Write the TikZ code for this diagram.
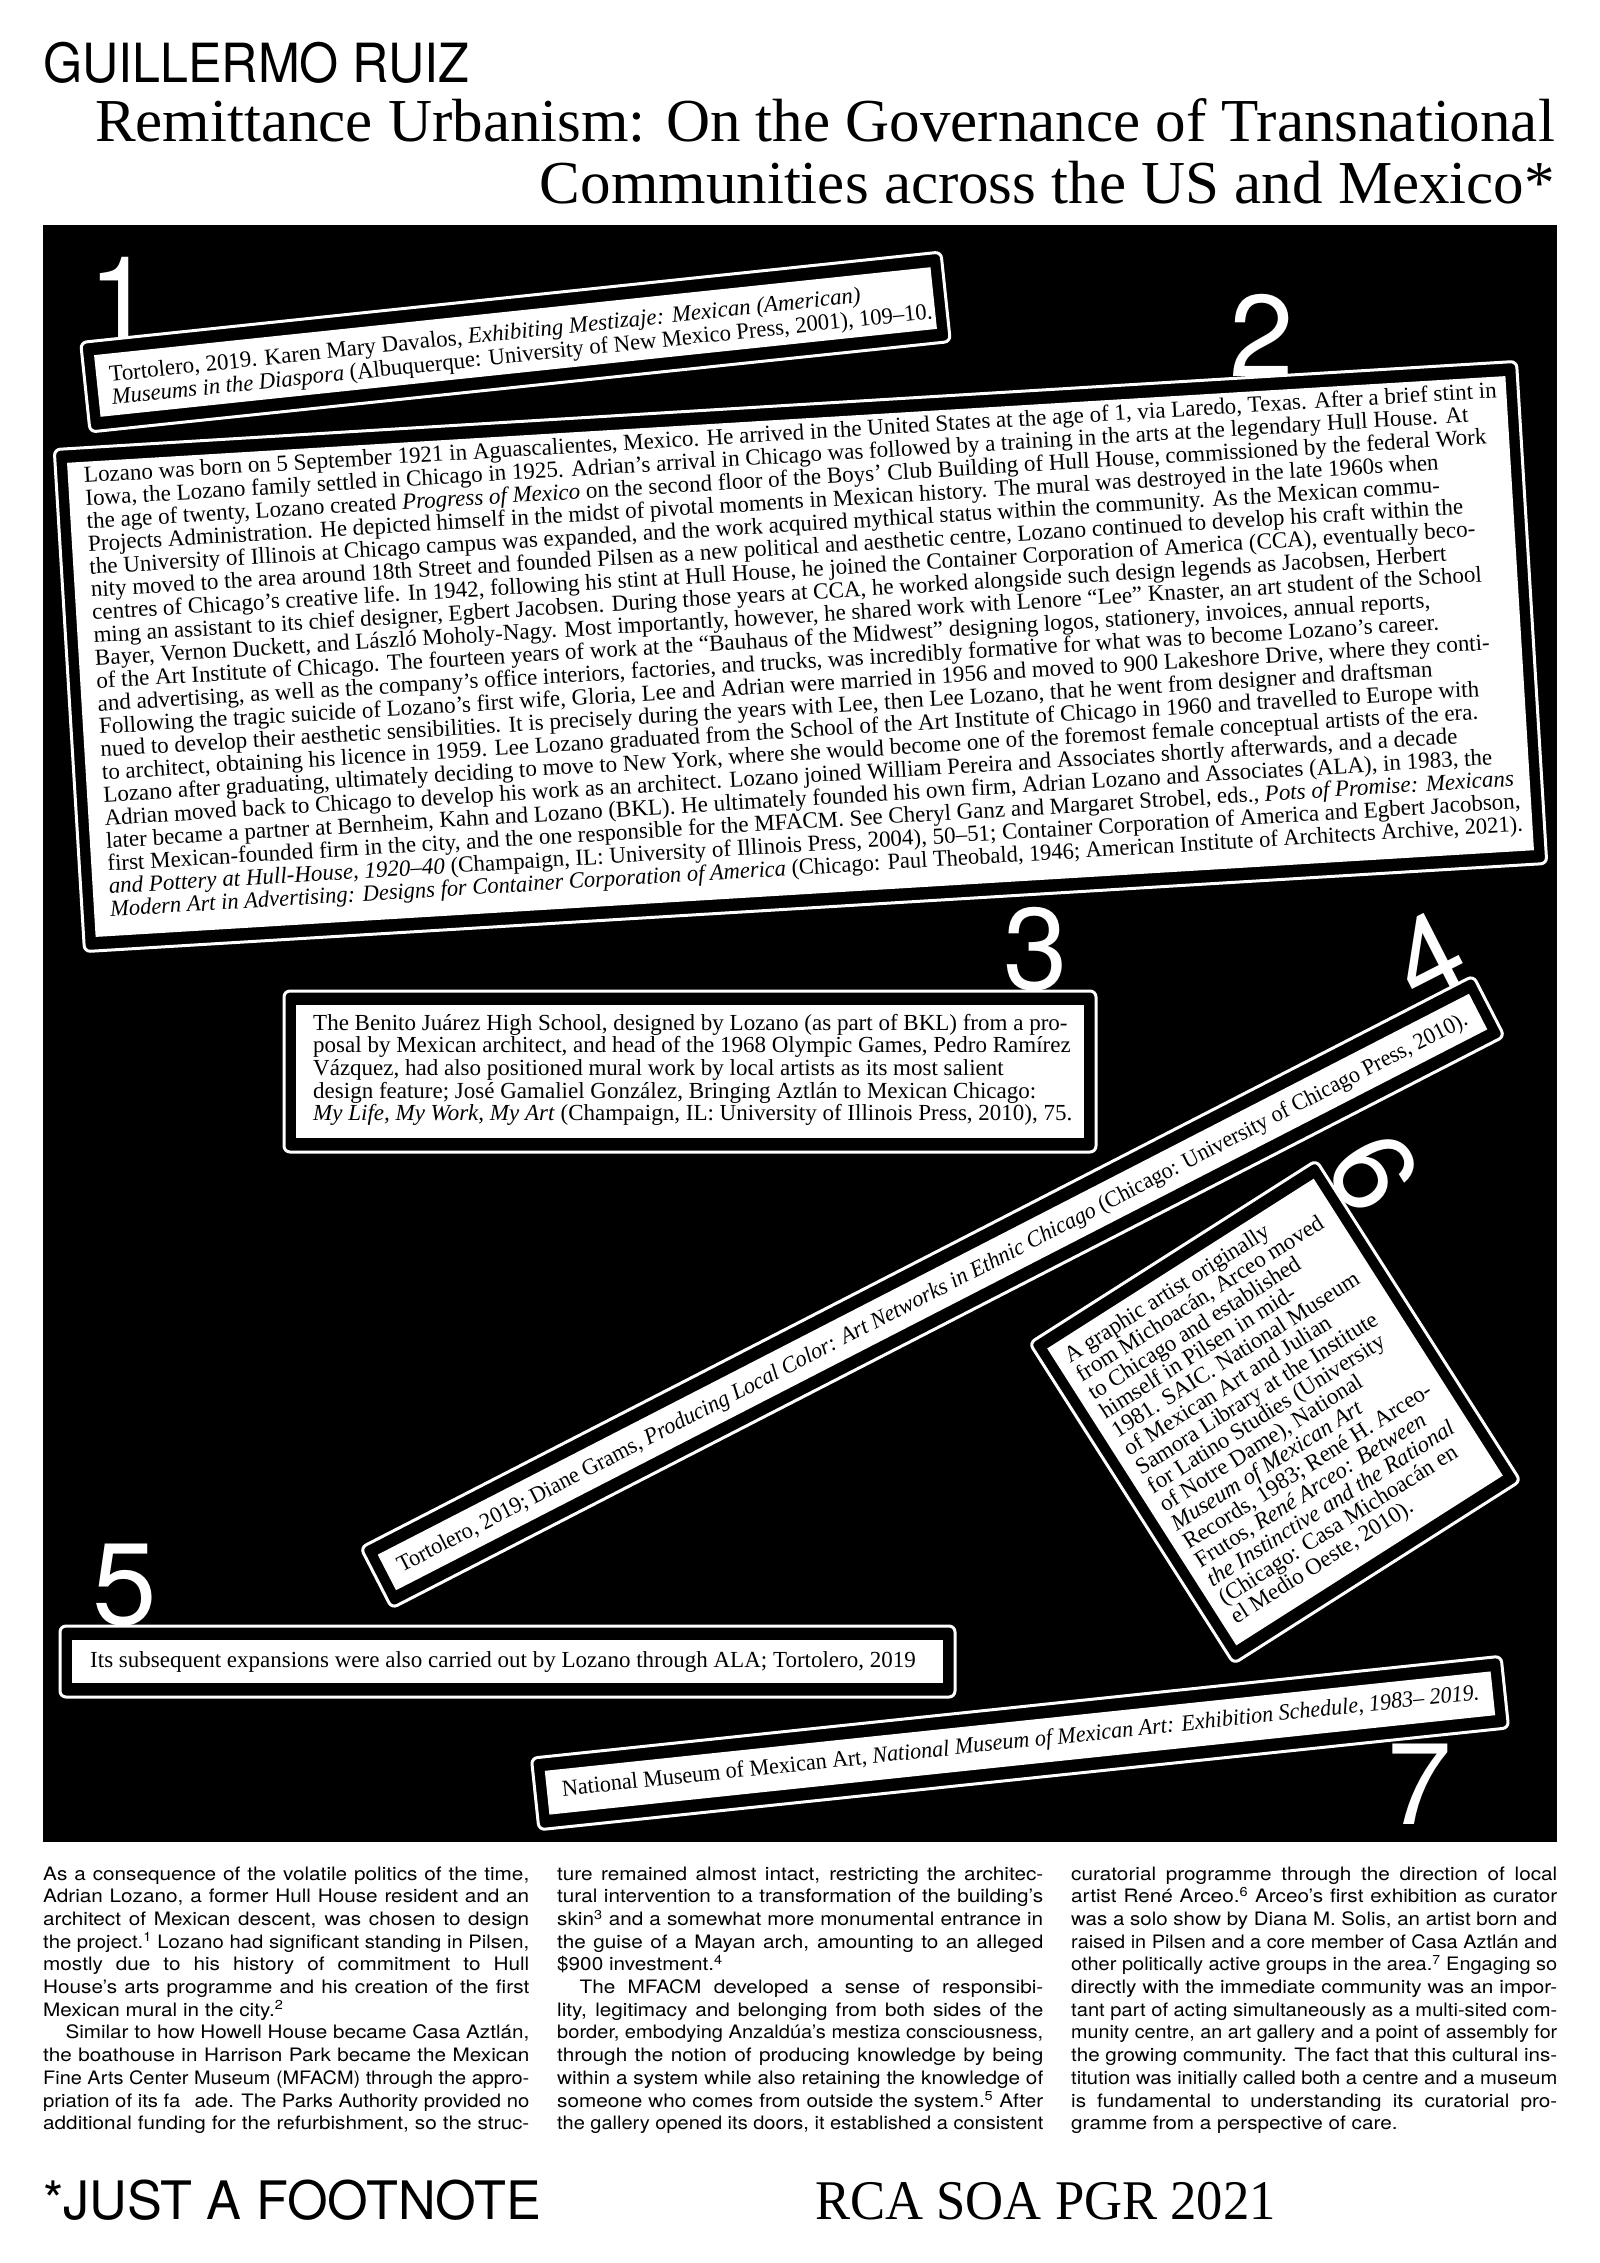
\documentclass[tikz,border=0pt]{standalone}
\usepackage{graphicx}
\usepackage{fontspec}
\setmainfont{Liberation Serif}
\newfontfamily\herosfont{TeX Gyre Heros}
\newcommand\lineL[1]{\setbox0=\hbox{#1}\ifdim\wd0>\hsize\hbox to\hsize{\resizebox{\hsize}{\height}{\box0}}\else\hbox to\hsize{\box0\hfil}\fi}
\newcommand\lineJ[1]{\setbox0=\hbox{#1}\ifdim\wd0>\hsize\hbox to\hsize{\resizebox{\hsize}{\height}{\box0}}\else\hbox to\hsize{#1}\fi}
\newcommand\lineI[1]{\lineJ{\hskip20pt #1}}
\newcommand\ptxtblock[3]{\vtop{\hsize=#1\baselineskip=#2\lineskiplimit=-100pt\lineskip=0pt\relax #3}}
\tikzset{
 outerbox/.style={draw=white, line width=3pt, fill=black, rounded corners=6pt, inner sep=0pt, outer sep=0pt},
 innerbox/.style={fill=white, draw=none, inner sep=0pt, outer sep=0pt},
 boxtext/.style={inner sep=0pt, anchor=base west, text=black, font=\fontsize{23}{22.9}\selectfont},
 bignum/.style={inner sep=0pt, anchor=south, text=white, font=\herosfont\fontsize{116}{116}\selectfont},
 bodytext/.style={inner sep=0pt, anchor=base west, text=black, font=\herosfont\fontsize{18.5}{22.7}\selectfont},
}
\begin{document}
\begin{tikzpicture}[x=1pt,y=-1pt]
\useasboundingbox (0,0) rectangle (1600,2263);
\fill[white] (0,0) rectangle (1600,2263);
% header
\node[inner sep=0pt, anchor=base west, font=\herosfont\fontsize{54}{54}\selectfont] (author) at (43,82) {\scalebox{0.93}[1]{GUILLERMO RUIZ}};
\node[inner sep=0pt, anchor=base east, font=\fontsize{61}{61}\selectfont] (title1) at (1555,141) {Remittance Urbanism: On the Governance of Transnational};
\node[inner sep=0pt, anchor=base east, font=\fontsize{61}{61}\selectfont] (title2) at (1555,203) {Communities across the US and Mexico*};
% panel
\fill[black] (43,225) rectangle (1557,1842);
% numbers
\node[bignum] (n1) at (121,340) {1};
\node[bignum] (n2) at (1262,377) {2};
\node[bignum] (n3) at (1036,991) {3};
\node[bignum, rotate=27] (n4) at (1447,994) {4};
\node[bignum] (n5) at (125,1626) {5};
\node[bignum, rotate=-58] (n6) at (1338,1195) {6};
\node[bignum] (n7) at (1420,1825) {7};
% box 1
\begin{scope}[shift={(515.5,342)}, rotate=6, transform shape]
 \node[outerbox, minimum width=865pt, minimum height=90pt] (box1) at (0,0) {};
 \node[innerbox, minimum width=841pt, minimum height=62pt] (box1in) at (0,0) {};
 \node[boxtext] (text1) at (-407.5,-3) {\ptxtblock{825pt}{23.5pt}{%
\lineL{Tortolero, 2019. Karen Mary Davalos, \textit{Exhibiting Mestizaje: Mexican (American)}}%
\lineL{\textit{Museums in the Diaspora} (Albuquerque: University of New Mexico Press, 2001), 109–10.}}};
\end{scope}
% box 2
\begin{scope}[shift={(800.5,656.5)}, rotate=3.45, transform shape]
 \node[outerbox, minimum width=1465pt, minimum height=503pt] (box2) at (0,0) {};
 \node[innerbox, minimum width=1441pt, minimum height=475pt] (box2in) at (0,0) {};
 \node[boxtext] (text2) at (-704.5,-216.5) {\ptxtblock{1415pt}{22.87pt}{%
\lineL{Lozano was born on 5 September 1921 in Aguascalientes, Mexico. He arrived in the United States at the age of 1, via Laredo, Texas. After a brief stint in}%
\lineL{Iowa, the Lozano family settled in Chicago in 1925. Adrian’s arrival in Chicago was followed by a training in the arts at the legendary Hull House. At}%
\lineL{the age of twenty, Lozano created \textit{Progress of Mexico} on the second floor of the Boys’ Club Building of Hull House, commissioned by the federal Work}%
\lineL{Projects Administration. He depicted himself in the midst of pivotal moments in Mexican history. The mural was destroyed in the late 1960s when}%
\lineL{the University of Illinois at Chicago campus was expanded, and the work acquired mythical status within the community. As the Mexican commu-}%
\lineL{nity moved to the area around 18th Street and founded Pilsen as a new political and aesthetic centre, Lozano continued to develop his craft within the}%
\lineL{centres of Chicago’s creative life. In 1942, following his stint at Hull House, he joined the Container Corporation of America (CCA), eventually beco-}%
\lineL{ming an assistant to its chief designer, Egbert Jacobsen. During those years at CCA, he worked alongside such design legends as Jacobsen, Herbert}%
\lineL{Bayer, Vernon Duckett, and László Moholy-Nagy. Most importantly, however, he shared work with Lenore “Lee” Knaster, an art student of the School}%
\lineL{of the Art Institute of Chicago. The fourteen years of work at the “Bauhaus of the Midwest” designing logos, stationery, invoices, annual reports,}%
\lineL{and advertising, as well as the company’s office interiors, factories, and trucks, was incredibly formative for what was to become Lozano’s career.}%
\lineL{Following the tragic suicide of Lozano’s first wife, Gloria, Lee and Adrian were married in 1956 and moved to 900 Lakeshore Drive, where they conti-}%
\lineL{nued to develop their aesthetic sensibilities. It is precisely during the years with Lee, then Lee Lozano, that he went from designer and draftsman}%
\lineL{to architect, obtaining his licence in 1959. Lee Lozano graduated from the School of the Art Institute of Chicago in 1960 and travelled to Europe with}%
\lineL{Lozano after graduating, ultimately deciding to move to New York, where she would become one of the foremost female conceptual artists of the era.}%
\lineL{Adrian moved back to Chicago to develop his work as an architect. Lozano joined William Pereira and Associates shortly afterwards, and a decade}%
\lineL{later became a partner at Bernheim, Kahn and Lozano (BKL). He ultimately founded his own firm, Adrian Lozano and Associates (ALA), in 1983, the}%
\lineL{first Mexican-founded firm in the city, and the one responsible for the MFACM. See Cheryl Ganz and Margaret Strobel, eds., \textit{Pots of Promise: Mexicans}}%
\lineL{\textit{and Pottery at Hull-House, 1920–40} (Champaign, IL: University of Illinois Press, 2004), 50–51; Container Corporation of America and Egbert Jacobson,}%
\lineL{\textit{Modern Art in Advertising: Designs for Container Corporation of America} (Chicago: Paul Theobald, 1946; American Institute of Architects Archive, 2021).}}};
\end{scope}
% box 3
\begin{scope}[shift={(690,1071.5)}]
 \node[outerbox, minimum width=812pt, minimum height=161pt] (box3) at (0,0) {};
 \node[innerbox, minimum width=788pt, minimum height=133pt] (box3in) at (0,0) {};
 \node[boxtext] (text3) at (-377,-41.5) {\ptxtblock{765pt}{22.7pt}{%
\lineL{The Benito Juárez High School, designed by Lozano (as part of BKL) from a pro-}%
\lineL{posal by Mexican architect, and head of the 1968 Olympic Games, Pedro Ramírez}%
\lineL{Vázquez, had also positioned mural work by local artists as its most salient}%
\lineL{design feature; José Gamaliel González, Bringing Aztlán to Mexican Chicago:}%
\lineL{\textit{My Life, My Work, My Art} (Champaign, IL: University of Illinois Press, 2010), 75.}}};
\end{scope}
% box 4
\begin{scope}[shift={(932.5,1292)}, rotate=27.2, transform shape]
 \node[outerbox, minimum width=1251pt, minimum height=68pt] (box4) at (0,0) {};
 \node[innerbox, minimum width=1227pt, minimum height=40pt] (box4in) at (0,0) {};
 \node[boxtext] (text4) at (-600.5,7) {\ptxtblock{1200pt}{22.9pt}{%
\lineL{Tortolero, 2019; Diane Grams, \textit{Producing Local Color: Art Networks in Ethnic Chicago} (Chicago: University of Chicago Press, 2010).}}};
\end{scope}
% box 5
\begin{scope}[shift={(507.5,1661.5)}]
 \node[outerbox, minimum width=895pt, minimum height=71pt] (box5) at (0,0) {};
 \node[innerbox, minimum width=871pt, minimum height=43pt] (box5in) at (0,0) {};
 \node[boxtext] (text5) at (-417.5,5.5) {\ptxtblock{840pt}{22.9pt}{%
\lineL{Its subsequent expansions were also carried out by Lozano through ALA; Tortolero, 2019}}};
\end{scope}
% box 6
\begin{scope}[shift={(1275,1412)}, rotate=32.5, transform shape]
 \node[outerbox, minimum width=340pt, minimum height=380pt] (box6) at (0,0) {};
 \node[innerbox, minimum width=316pt, minimum height=352pt] (box6in) at (0,0) {};
 \node[boxtext] (text6) at (-147,-151) {\ptxtblock{300pt}{22.1pt}{%
\lineL{A graphic artist originally}%
\lineL{from Michoacán, Arceo moved}%
\lineL{to Chicago and established}%
\lineL{himself in Pilsen in mid-}%
\lineL{1981. SAIC. National Museum}%
\lineL{of Mexican Art and Julian}%
\lineL{Samora Library at the Institute}%
\lineL{for Latino Studies (University}%
\lineL{of Notre Dame), National}%
\lineL{\textit{Museum of Mexican Art}}%
\lineL{Records, 1983; René H. Arceo-}%
\lineL{Frutos, \textit{René Arceo: Between}}%
\lineL{\textit{the Instinctive and the Rational}}%
\lineL{(Chicago: Casa Michoacán en}%
\lineL{el Medio Oeste, 2010).}}};
\end{scope}
% box 7
\begin{scope}[shift={(1020,1743)}, rotate=6, transform shape]
 \node[outerbox, minimum width=975pt, minimum height=72pt] (box7) at (0,0) {};
 \node[innerbox, minimum width=951pt, minimum height=44pt] (box7in) at (0,0) {};
 \node[boxtext] (text7) at (-460.5,5) {\ptxtblock{922pt}{22.9pt}{%
\lineL{National Museum of Mexican Art, \textit{National Museum of Mexican Art: Exhibition Schedule, 1983– 2019.}}}};
\end{scope}
% body columns
\node[bodytext] (col1) at (43,1880) {\scalebox{1.12}[1]{\ptxtblock{434pt}{22.7pt}{%
\lineJ{As a consequence of the volatile politics of the time,}%
\lineJ{Adrian Lozano, a former Hull House resident and an}%
\lineJ{architect of Mexican descent, was chosen to design}%
\lineJ{the project.\textsuperscript{1} Lozano had significant standing in Pilsen,}%
\lineJ{mostly due to his history of commitment to Hull}%
\lineJ{House’s arts programme and his creation of the first}%
\lineL{Mexican mural in the city.\textsuperscript{2}}%
\lineI{Similar to how Howell House became Casa Aztlán,}%
\lineJ{the boathouse in Harrison Park became the Mexican}%
\lineJ{Fine Arts Center Museum (MFACM) through the appro-}%
\lineJ{priation of its fa\kern.7em ade. The Parks Authority provided no}%
\lineJ{additional funding for the refurbishment, so the struc-}}}};
\node[bodytext] (col2) at (557,1880) {\scalebox{1.12}[1]{\ptxtblock{434pt}{22.7pt}{%
\lineJ{ture remained almost intact, restricting the architec-}%
\lineJ{tural intervention to a transformation of the building’s}%
\lineJ{skin\textsuperscript{3} and a somewhat more monumental entrance in}%
\lineJ{the guise of a Mayan arch, amounting to an alleged}%
\lineL{\$900 investment.\textsuperscript{4}}%
\lineI{The MFACM developed a sense of responsibi-}%
\lineJ{lity, legitimacy and belonging from both sides of the}%
\lineJ{border, embodying Anzaldúa’s mestiza consciousness,}%
\lineJ{through the notion of producing knowledge by being}%
\lineJ{within a system while also retaining the knowledge of}%
\lineJ{someone who comes from outside the system.\textsuperscript{5} After}%
\lineJ{the gallery opened its doors, it established a consistent}}}};
\node[bodytext] (col3) at (1071,1880) {\scalebox{1.12}[1]{\ptxtblock{434pt}{22.7pt}{%
\lineJ{curatorial programme through the direction of local}%
\lineJ{artist René Arceo.\textsuperscript{6} Arceo’s first exhibition as curator}%
\lineJ{was a solo show by Diana M. Solis, an artist born and}%
\lineJ{raised in Pilsen and a core member of Casa Aztlán and}%
\lineJ{other politically active groups in the area.\textsuperscript{7} Engaging so}%
\lineJ{directly with the immediate community was an impor-}%
\lineJ{tant part of acting simultaneously as a multi-sited com-}%
\lineJ{munity centre, an art gallery and a point of assembly for}%
\lineJ{the growing community. The fact that this cultural ins-}%
\lineJ{titution was initially called both a centre and a museum}%
\lineJ{is fundamental to understanding its curatorial pro-}%
\lineL{gramme from a perspective of care.}}}};
% footer
\node[inner sep=0pt, anchor=base west, font=\herosfont\fontsize{53}{53}\selectfont] (foot) at (43,2219) {\scalebox{0.985}[1]{*JUST A FOOTNOTE}};
\node[inner sep=0pt, anchor=base west, font=\fontsize{56}{56}\selectfont] (rca) at (815,2219) {\scalebox{0.94}[1]{RCA SOA PGR 2021}};
\end{tikzpicture}
\end{document}
